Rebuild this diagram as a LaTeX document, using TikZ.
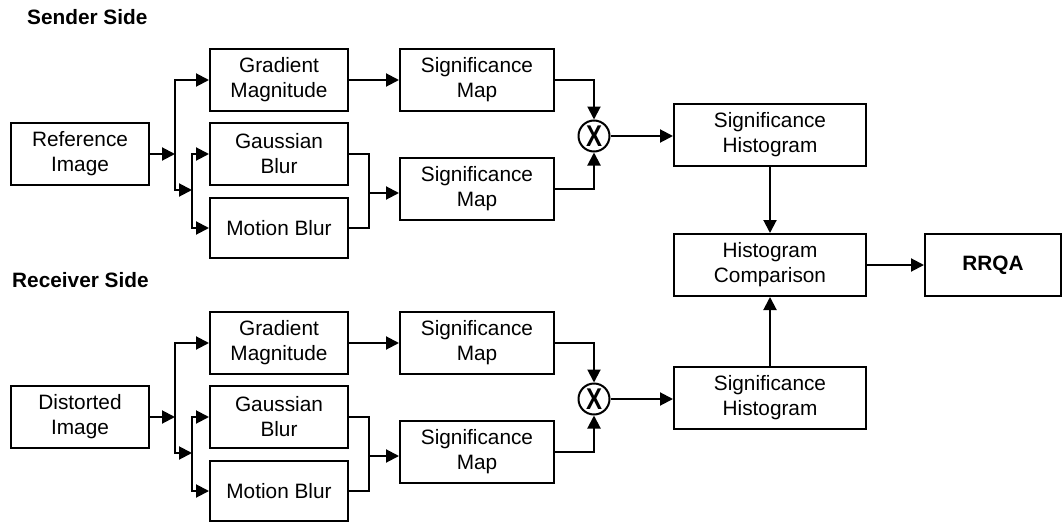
\documentclass[tikz,border=0pt]{standalone}
\usepackage{fontspec}
\setmainfont{Liberation Sans}
\usetikzlibrary{arrows.meta}
\begin{document}
\begin{tikzpicture}[x=1pt,y=-1pt,
  box/.style={draw,line width=2pt,inner sep=0pt,align=center,
    minimum width=138pt,minimum height=62pt,
    font=\fontsize{20.8}{25}\selectfont},
  mapbox/.style={box,minimum width=154pt},
  histbox/.style={box,minimum width=192pt},
  mult/.style={draw,circle,line width=2pt,inner sep=0pt,minimum size=31pt,
    font=\fontsize{30}{30}\selectfont\bfseries},
  side/.style={anchor=west,inner sep=0pt,font=\fontsize{20.8}{25}\selectfont\bfseries},
  wire/.style={line width=2pt},
  arr/.style={wire,-{Triangle[length=13pt,width=13pt]}}]
\useasboundingbox (0,0) rectangle (1063,522);

% one processing chain per side, shifted down by \dy
\foreach \dy/\src/\tag/\sidelabel/\lx in {0/Reference/s/Sender Side/27, 263/Distorted/r/Receiver Side/12}{
  \begin{scope}[yshift=-\dy pt]
    \node[side] (\tag lbl) at (\lx,17) {\sidelabel};
    \node[box] (\tag img) at (80,154) {\src\\Image};
    \node[box] (\tag grad) at (279,80) {Gradient\\Magnitude};
    \node[box] (\tag gauss) at (279,154) {Gaussian\\Blur};
    \node[box,minimum height=60pt] (\tag motion) at (279,228) {Motion Blur};
    \node[mapbox] (\tag mapa) at (477,80) {Significance\\Map};
    \node[mapbox] (\tag mapb) at (477,188.5) {Significance\\Map};
    \node[mult] (\tag mult) at (594,136) {\scalebox{0.8}[1]{X}};
    \node[histbox] (\tag hist) at (770,135) {Significance\\Histogram};
    \coordinate (\tag fork) at (175,154);
    \coordinate (\tag blur) at (192,190);
    \coordinate (\tag join) at (369,193);

    \draw[arr] (\tag img) -- (\tag fork);
    \draw[arr] (\tag fork) |- (\tag grad.west);
    \draw[arr] (\tag fork) |- (\tag blur);
    \draw[arr] (\tag blur) |- (\tag gauss.west);
    \draw[arr] (\tag blur) |- (\tag motion.west);
    \draw[arr] (\tag grad) -- (\tag mapa);
    \draw[wire] (\tag gauss.east) -| (\tag join) |- (\tag motion.east);
    \draw[arr] (\tag join) -- (\tag join -| \tag mapb.west);
    \draw[arr] (\tag mapa.east) -| (\tag mult.north);
    \draw[arr] (\tag mapb.east) -| (\tag mult.south);
    \draw[arr] (\tag mult) -- (\tag mult -| \tag hist.west);
  \end{scope}
}

\node[histbox] (comp) at (770,265) {Histogram\\Comparison};
\node[box,minimum width=136pt,font=\fontsize{20.8}{25}\selectfont\bfseries] (rrqa) at (993,265) {RRQA};

\draw[arr] (shist) -- (comp);
\draw[arr] (rhist) -- (comp);
\draw[arr] (comp) -- (rrqa);
\end{tikzpicture}
\end{document}
